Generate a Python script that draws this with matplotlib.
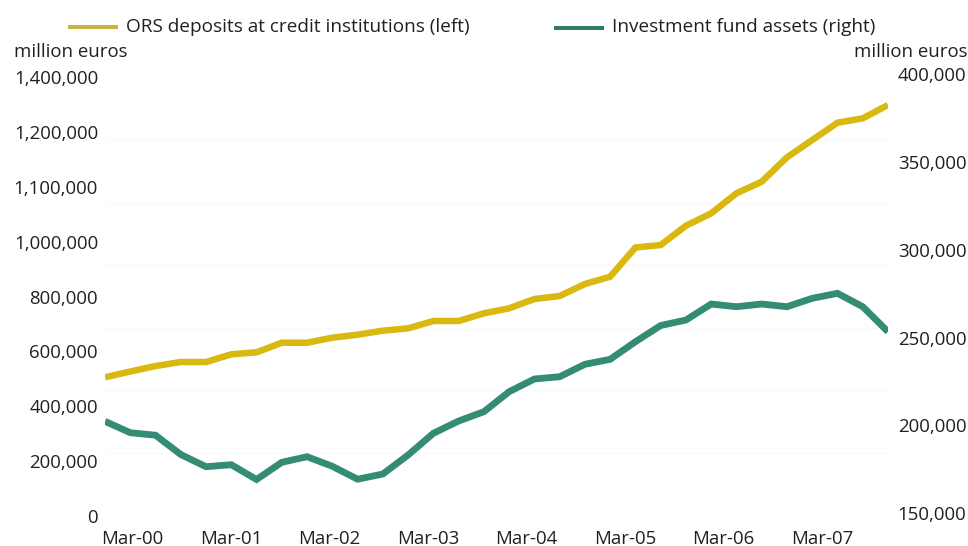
import matplotlib
matplotlib.use("Agg")
import matplotlib.pyplot as plt
from matplotlib.lines import Line2D
from matplotlib.transforms import ScaledTranslation
import numpy as np

plt.rcParams['font.family'] = ['Open Sans', 'DejaVu Sans']

# Quarterly data, Mar-00 .. Dec-07 (million euros)
ors_deposits = [505800, 527000, 547000, 561600, 561600, 589700, 597000, 632000,
                632000, 650300, 661200, 675800, 684500, 711200, 711200, 739200,
                757500, 791400, 802300, 846100, 872700, 979200, 988300, 1058700,
                1104000, 1176900, 1219200, 1308200, 1371300, 1434400, 1450400, 1498900]
fund_assets = [203960, 197460, 196040, 185040, 178090, 179230, 170800, 180600,
               183790, 178320, 170970, 173930, 184760, 197120, 204130, 209430,
               220830, 228060, 229370, 236440, 239290, 249320, 258550, 261680,
               270800, 269260, 270800, 269260, 274050, 276900, 269260, 255020]
x_labels = ['Mar-00', 'Mar-01', 'Mar-02', 'Mar-03', 'Mar-04', 'Mar-05', 'Mar-06', 'Mar-07']
left_ticks = [0, 200000, 400000, 600000, 800000, 1000000, 1200000, 1400000, 1600000]
left_labels = ['0', '200,000', '400,000', '600,000', '800,000', '1,000,000',
               '1,100,000', '1,200,000', '1,400,000']
right_ticks = [150000, 200000, 250000, 300000, 350000, 400000]
right_labels = ['150,000', '200,000', '250,000', '300,000', '350,000', '400,000']
legend_labels = ['ORS deposits at credit institutions (left)', 'Investment fund assets (right)']

W, H = 968, 546
fig = plt.figure(figsize=(W / 100, H / 100), dpi=100)
ax = fig.add_axes([105 / W, 30 / H, (888 - 105) / W, (516 - 77.3) / H])
ax2 = ax.twinx()

YELLOW = '#D9B80F'
GREEN = '#358C74'
TXT = '#231F20'
FS = 13.4

x = np.arange(len(ors_deposits))
# faint ghost gridlines
for g in np.linspace(0, 1600000, 8)[1:-1]:
    ax.axhline(g, color='#fafafa', lw=0.8, zorder=0)

ax.plot(x, ors_deposits, color=YELLOW, lw=4.7, solid_capstyle='butt', solid_joinstyle='miter', zorder=3)
ax2.plot(x, fund_assets, color=GREEN, lw=4.9, solid_capstyle='butt', solid_joinstyle='miter', zorder=3)

ax.set_xlim(0, len(ors_deposits) - 1)
ax.set_ylim(0, 1600000)
ax2.set_ylim(150000, 400000)

ax.set_yticks(left_ticks)
ax.set_yticklabels(left_labels)
ax2.set_yticks(right_ticks)
ax2.set_yticklabels(right_labels)
ax.set_xticks([1.09 + 3.9 * k for k in range(len(x_labels))])
ax.set_xticklabels(x_labels)

for a in (ax, ax2):
    for s in a.spines.values():
        s.set_visible(False)
    a.tick_params(length=0, labelsize=FS, colors=TXT)
ax.tick_params(axis='y', pad=5)
ax.tick_params(axis='x', pad=10)
ax2.tick_params(axis='y', pad=7)
for lab in ax2.get_yticklabels():
    lab.set_transform(lab.get_transform() + ScaledTranslation(0, 3 / 100, fig.dpi_scale_trans))

# axis unit labels
fig.text(14 / W, 1 - 52 / H, 'million euros', ha='left', va='center', fontsize=FS, color=TXT)
fig.text(967 / W, 1 - 52 / H, 'million euros', ha='right', va='center', fontsize=FS, color=TXT)

# legend
LFS = 13.7
fig.add_artist(Line2D([68 / W, 118 / W], [1 - 26.7 / H] * 2, color='#C8B443', lw=2.9, solid_capstyle='butt'))
fig.text(126 / W, 1 - 27 / H, legend_labels[0], ha='left', va='center', fontsize=LFS, color=TXT)
fig.add_artist(Line2D([554 / W, 604 / W], [1 - 27.7 / H] * 2, color='#2E7D64', lw=2.9, solid_capstyle='butt'))
fig.text(612 / W, 1 - 27 / H, legend_labels[1], ha='left', va='center', fontsize=LFS, color=TXT)

fig.savefig('out.png', dpi=100, facecolor='white')
